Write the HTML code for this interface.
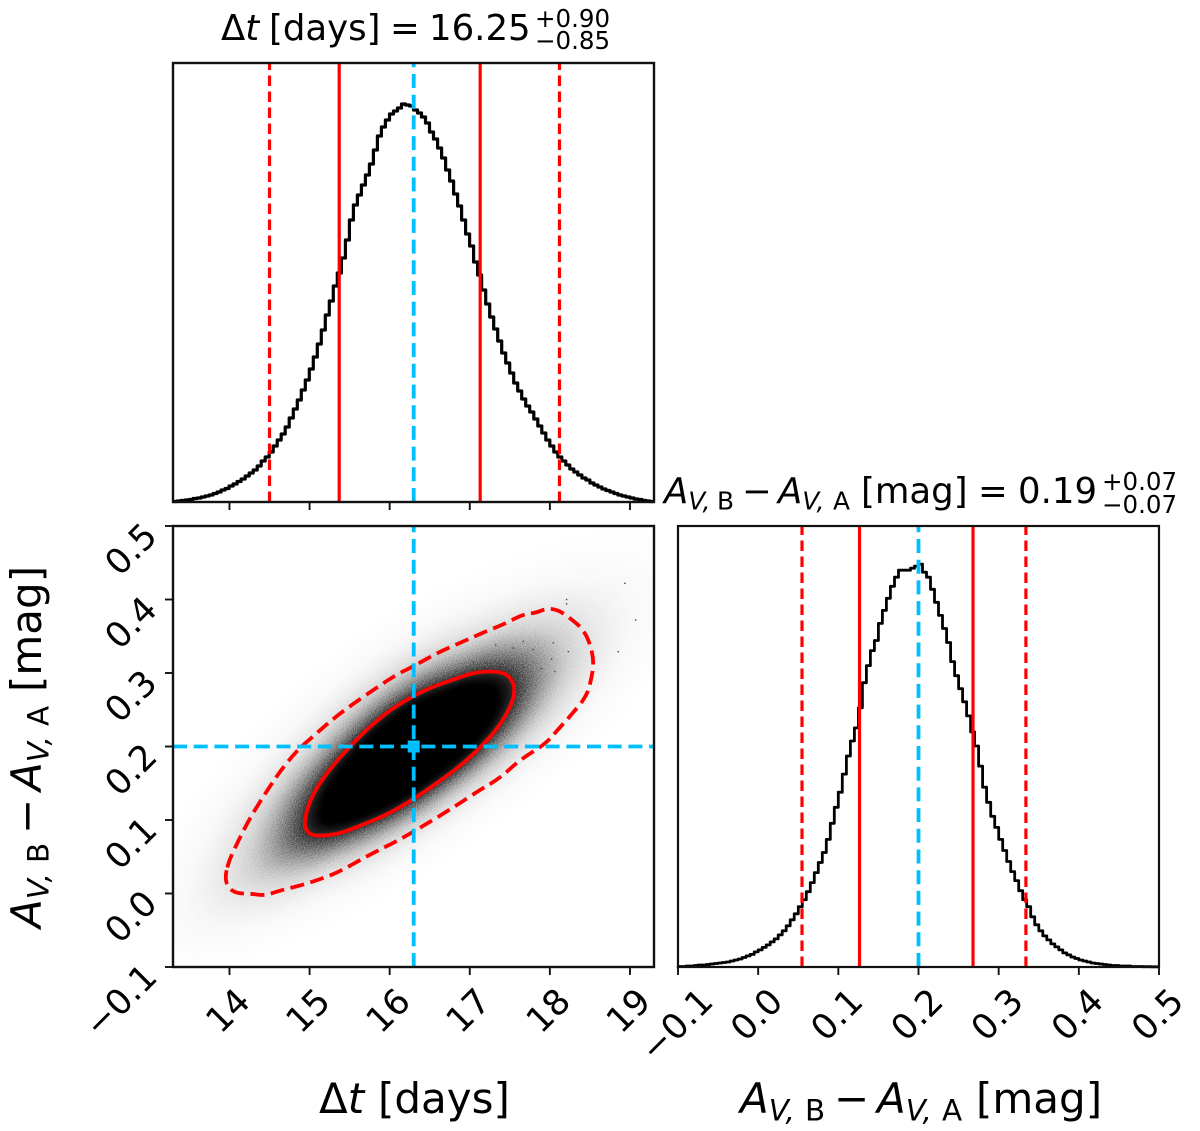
<!DOCTYPE html>
<html><head><meta charset="utf-8"><title>Corner plot</title>
<style>
html,body{margin:0;padding:0;background:#fff}
svg{display:block}
text{font-family:"DejaVu Sans","Liberation Sans",sans-serif;fill:#000}
</style></head>
<body>
<svg id="chart" xmlns="http://www.w3.org/2000/svg" width="1200" height="1131" viewBox="0 0 1200 1131">
<defs>
<clipPath id="clip-joint"><rect x="173" y="526" width="481" height="441"/></clipPath>
<filter id="soft" filterUnits="userSpaceOnUse" x="100" y="480" width="620" height="540" color-interpolation-filters="sRGB"><feGaussianBlur stdDeviation="3"/></filter>
<filter id="grain" filterUnits="userSpaceOnUse" x="100" y="480" width="620" height="540" color-interpolation-filters="sRGB">
<feGaussianBlur in="SourceGraphic" stdDeviation="3.5" result="b"/>
<feTurbulence type="fractalNoise" baseFrequency="0.9" numOctaves="2" seed="3" result="n"/>
<feColorMatrix in="n" type="matrix" values="1 0 0 0 0 1 0 0 0 0 1 0 0 0 0 0 0 0 0 1" result="g"/>
<feComposite in="b" in2="g" operator="arithmetic" k1="-1" k2="1.5" k3="1" k4="-0.5"/>
</filter>
</defs>
<g id="panel-top"></g>
<g id="panel-joint"></g>
<g id="panel-right"></g>

<g>
<text y="40" font-size="35.5"><tspan x="221">Δ</tspan><tspan font-style="italic">t</tspan><tspan x="269">[days]</tspan><tspan x="390">=</tspan><tspan x="429">16.25</tspan></text>
<text x="535" y="27" font-size="24.5">+0.90</text>
<text x="535" y="49" font-size="24.5">−0.85</text>
</g>
<g>
<text y="503" font-size="35.5"><tspan x="664" font-style="italic">A</tspan><tspan font-style="italic" font-size="70%" dy=".26em">V,</tspan><tspan x="717" font-size="70%">B</tspan><tspan x="742" dy="-.18em">−</tspan><tspan x="778" font-style="italic">A</tspan><tspan font-style="italic" font-size="70%" dy=".26em">V,</tspan><tspan x="833" font-size="70%">A</tspan><tspan x="861" dy="-.18em">[mag]</tspan><tspan x="978">=</tspan><tspan x="1018">0.19</tspan></text>
<text x="1102" y="490" font-size="24.5">+0.07</text>
<text x="1102" y="513" font-size="24.5">−0.07</text>
</g>
<text y="1113" font-size="42"><tspan x="319">Δ</tspan><tspan font-style="italic">t</tspan><tspan x="378">[days]</tspan></text>
<text transform="translate(740 1113)" font-size="42"><tspan x="0" font-style="italic">A</tspan><tspan font-style="italic" font-size="70%" dy=".26em">V,</tspan><tspan x="65" font-size="70%">B</tspan><tspan x="94" dy="-.18em">−</tspan><tspan x="137" font-style="italic">A</tspan><tspan font-style="italic" font-size="70%" dy=".26em">V,</tspan><tspan x="202" font-size="70%">A</tspan><tspan x="236" dy="-.18em">[mag]</tspan></text>
<text transform="translate(41 928) rotate(-90)" font-size="42"><tspan x="0" font-style="italic">A</tspan><tspan font-style="italic" font-size="70%" dy=".26em">V,</tspan><tspan x="65" font-size="70%">B</tspan><tspan x="94" dy="-.18em">−</tspan><tspan x="137" font-style="italic">A</tspan><tspan font-style="italic" font-size="70%" dy=".26em">V,</tspan><tspan x="202" font-size="70%">A</tspan><tspan x="236" dy="-.18em">[mag]</tspan></text>
</svg>
<script>
// ---- data ----
const dtRange = [13.295, 19.3];
const avRange = [-0.1, 0.5];
const dtTicks = [14, 15, 16, 17, 18, 19];
const avTicks = [-0.1, 0.0, 0.1, 0.2, 0.3, 0.4, 0.5];
const dtTickLabels = ['14', '15', '16', '17', '18', '19'];
const avTickLabels = ['−0.1', '0.0', '0.1', '0.2', '0.3', '0.4', '0.5'];
const dtTruth = 16.3;
const avTruth = 0.2;
const dtInner = [15.37, 17.13];
const dtOuter = [14.5, 18.12];
const avInner = [0.1264, 0.268];
const avOuter = [0.0547, 0.334];
const countsMax = 4390;
const dtCounts = [5,10,15,20,25,35,40,50,60,70,85,100,120,135,160,180,205,230,260,290,320,360,410,450,500,560,620,680,750,840,930,1020,1120,1220,1330,1450,1580,1720,1870,2010,2160,2290,2440,2620,2820,2970,3070,3170,3270,3380,3520,3660,3750,3820,3880,3910,3940,3980,3970,3960,3920,3890,3850,3790,3700,3630,3540,3440,3320,3210,3080,2960,2820,2680,2560,2400,2270,2120,1980,1850,1730,1610,1490,1390,1290,1190,1110,1030,960,900,830,760,690,620,560,500,450,410,370,330,300,270,240,220,190,170,150,130,115,100,85,70,60,50,40,30,25,15,10,5];
const avCounts = [5,5,10,10,15,20,20,25,30,35,40,45,50,60,70,80,95,110,125,150,170,195,220,250,280,320,360,410,470,530,600,670,750,840,940,1040,1140,1270,1430,1590,1740,1920,2100,2250,2380,2580,2830,3000,3150,3250,3420,3550,3670,3790,3880,3950,3950,3950,3970,3990,4010,3930,3880,3760,3630,3500,3370,3230,3040,2900,2770,2640,2500,2340,2200,2000,1790,1640,1500,1390,1270,1160,1050,950,860,760,670,600,500,420,360,310,270,230,200,170,140,120,100,85,70,60,50,40,35,30,25,20,15,15,10,10,10,5,5,5,3,3,2,2];
const innerContourDt = [14.930,14.984,15.109,15.296,15.504,15.712,15.962,16.212,16.503,16.794,17.086,17.418,17.543,17.564,17.481,17.335,17.127,16.877,16.586,16.295,15.962,15.629,15.338,15.046,14.963];
const innerContourAv = [0.096,0.121,0.148,0.175,0.200,0.223,0.246,0.264,0.280,0.291,0.302,0.302,0.289,0.271,0.248,0.223,0.198,0.173,0.150,0.128,0.107,0.092,0.080,0.078,0.085];
const outerContourDt = [13.944,13.985,14.089,14.256,14.443,14.630,14.922,15.171,15.379,15.754,16.087,16.420,16.794,17.127,17.377,17.627,17.939,18.084,18.251,18.459,18.521,18.550,18.500,18.409,18.272,18.105,17.959,17.835,17.668,17.460,17.210,16.919,16.586,16.295,16.087,15.837,15.504,15.254,15.046,14.838,14.630,14.464,14.256,14.089,13.985];
const outerContourAv = [0.021,0.008,0.000,0.000,-0.003,0.004,0.012,0.021,0.030,0.053,0.071,0.092,0.117,0.141,0.157,0.182,0.203,0.221,0.241,0.268,0.293,0.316,0.341,0.360,0.373,0.386,0.388,0.382,0.380,0.368,0.357,0.343,0.327,0.309,0.298,0.280,0.255,0.234,0.214,0.194,0.166,0.139,0.103,0.067,0.042];
const outlierDt = [17.323,17.543,17.793,18.022,18.230,18.043,18.854,19.071,18.209,18.209,18.937,17.668,16.877,17.210,17.044,17.439,17.668,17.897,18.063];
const outlierAv = [0.338,0.334,0.332,0.319,0.329,0.341,0.329,0.372,0.400,0.394,0.422,0.343,0.299,0.314,0.314,0.316,0.308,0.306,0.302];
const densityCenter = [16.25, 0.19];
const densityScales = [2.7,2.55,2.4,2.25,2.1,2.0,1.9,1.8,1.7,1.6,1.5,1.42,1.34,1.26,1.18,1.1,1.02,0.95,0.88];
const densityValues = [0.004,0.008,0.014,0.022,0.035,0.05,0.07,0.095,0.125,0.165,0.22,0.29,0.37,0.47,0.58,0.70,0.83,0.93,1.0];
const solidCoreLevels = 3;

// ---- axis functions ----
const NS = 'http://www.w3.org/2000/svg';
const LEFT = {x0: 173, x1: 654};
const RIGHT = {x0: 678, x1: 1159};
const TOPP = {y0: 63, y1: 502};
const JOINT = {y0: 526, y1: 967};
const xDt = v => LEFT.x0 + (v - dtRange[0]) / (dtRange[1] - dtRange[0]) * (LEFT.x1 - LEFT.x0);
const xAv = v => RIGHT.x0 + (v - avRange[0]) / (avRange[1] - avRange[0]) * (RIGHT.x1 - RIGHT.x0);
const yAv = v => JOINT.y1 - (v - avRange[0]) / (avRange[1] - avRange[0]) * (JOINT.y1 - JOINT.y0);
const yTop = v => TOPP.y1 - v / countsMax * (TOPP.y1 - TOPP.y0);
const yRight = v => JOINT.y1 - v / countsMax * (JOINT.y1 - JOINT.y0);

function mk(tag, parent, attrs) {
  const e = document.createElementNS(NS, tag);
  for (const k in attrs) e.setAttribute(k, attrs[k]);
  parent.appendChild(e);
  return e;
}
const RED = '#ff0000', BLUE = '#00bfff';
const pTop = document.getElementById('panel-top');
const pJoint = document.getElementById('panel-joint');
const pRight = document.getElementById('panel-right');

function stepPath(counts, xa, xb, yf) {
  const w = (xb - xa) / counts.length;
  let d = 'M' + xa + ' ' + yf(counts[0]);
  counts.forEach((c, i) => { d += 'V' + yf(c).toFixed(1) + 'H' + (xa + (i + 1) * w).toFixed(1); });
  return d;
}
function smoothClosed(px) {
  const n = px.length;
  const mid = (a, b) => [(a[0] + b[0]) / 2, (a[1] + b[1]) / 2];
  const s = mid(px[n - 1], px[0]);
  let d = 'M' + s[0].toFixed(1) + ' ' + s[1].toFixed(1);
  for (let i = 0; i < n; i++) {
    const m = mid(px[i], px[(i + 1) % n]);
    d += 'Q' + px[i][0].toFixed(1) + ' ' + px[i][1].toFixed(1) + ' ' + m[0].toFixed(1) + ' ' + m[1].toFixed(1);
  }
  return d + 'Z';
}

// ---- top histogram ----
const topHist = mk('path', pTop, {d: stepPath(dtCounts, LEFT.x0, LEFT.x1, yTop), fill: 'none', stroke: '#000', 'stroke-width': 3.2, 'stroke-linejoin': 'round'});


dtOuter.forEach(v => {
  const l = mk('line', pTop, {x1: xDt(v), x2: xDt(v), y1: TOPP.y1, y2: TOPP.y0, stroke: RED, 'stroke-width': 3.2, 'stroke-dasharray': '10.5 5.5'});
  
  
});
dtInner.forEach(v => {
  const l = mk('line', pTop, {x1: xDt(v), x2: xDt(v), y1: TOPP.y1, y2: TOPP.y0, stroke: RED, 'stroke-width': 3.2});
  
  
});
const topTruth = mk('line', pTop, {x1: xDt(dtTruth), x2: xDt(dtTruth), y1: TOPP.y1, y2: TOPP.y0, stroke: BLUE, 'stroke-width': 3.8, 'stroke-dasharray': '14 6.7'});



// ---- joint panel ----
const jointClip = mk('g', pJoint, {'clip-path': 'url(#clip-joint)'});


const densityGroup = mk('g', jointClip, {filter: 'url(#grain)'});


const densityBase = mk('rect', densityGroup, {x: 100, y: 480, width: 620, height: 540, fill: '#fff'});


const coreGroup = mk('g', jointClip, {filter: 'url(#soft)'});


const cx = xDt(densityCenter[0]), cy = yAv(densityCenter[1]);
const innerPx = innerContourDt.map((v, i) => [xDt(v), yAv(innerContourAv[i])]);
const outerPx = outerContourDt.map((v, i) => [xDt(v), yAv(outerContourAv[i])]);
densityScales.forEach((s, i) => {
  const pts = innerPx.map(p => [cx + (p[0] - cx) * s, cy + (p[1] - cy) * s]);
  const g = Math.round(255 * (1 - densityValues[i]));
  const host = i >= densityScales.length - solidCoreLevels ? coreGroup : densityGroup;
  const band = mk('path', host, {d: smoothClosed(pts), fill: 'rgb(' + g + ',' + g + ',' + g + ')'});
  
  
});
outlierDt.forEach((v, i) => {
  const dot = mk('rect', jointClip, {x: xDt(v) - 0.7, y: yAv(outlierAv[i]) - 0.7, width: 1.4, height: 1.4, fill: '#444'});
  
  
});
const outerC = mk('path', jointClip, {d: smoothClosed(outerPx), fill: 'none', stroke: RED, 'stroke-width': 3.8, 'stroke-dasharray': '14 6.5', 'stroke-linejoin': 'round'});


const innerC = mk('path', jointClip, {d: smoothClosed(innerPx), fill: 'none', stroke: RED, 'stroke-width': 3.8, 'stroke-linejoin': 'round'});


const jv = mk('line', jointClip, {x1: xDt(dtTruth), x2: xDt(dtTruth), y1: JOINT.y1, y2: JOINT.y0, stroke: BLUE, 'stroke-width': 3.8, 'stroke-dasharray': '14 6.7'});


const jh = mk('line', jointClip, {x1: LEFT.x0, x2: LEFT.x1, y1: yAv(avTruth), y2: yAv(avTruth), stroke: BLUE, 'stroke-width': 3.8, 'stroke-dasharray': '14 6.7'});


const jm = mk('rect', jointClip, {x: xDt(dtTruth) - 6, y: yAv(avTruth) - 6, width: 12, height: 12, fill: BLUE});



// ---- right histogram ----
const rightHist = mk('path', pRight, {d: stepPath(avCounts, RIGHT.x0, RIGHT.x1, yRight), fill: 'none', stroke: '#000', 'stroke-width': 2.8, 'stroke-linejoin': 'round'});


avOuter.forEach(v => {
  const l = mk('line', pRight, {x1: xAv(v), x2: xAv(v), y1: JOINT.y1, y2: JOINT.y0, stroke: RED, 'stroke-width': 3.2, 'stroke-dasharray': '10.5 5.5'});
  
  
});
avInner.forEach(v => {
  const l = mk('line', pRight, {x1: xAv(v), x2: xAv(v), y1: JOINT.y1, y2: JOINT.y0, stroke: RED, 'stroke-width': 3.2});
  
  
});
const rightTruth = mk('line', pRight, {x1: xAv(avTruth), x2: xAv(avTruth), y1: JOINT.y1, y2: JOINT.y0, stroke: BLUE, 'stroke-width': 3.8, 'stroke-dasharray': '14 6.7'});



// ---- frames ----
[[pTop, LEFT, TOPP, 2.4], [pJoint, LEFT, JOINT, 2.4], [pRight, RIGHT, JOINT, 2.2]].forEach(f => {
  const r = mk('rect', f[0], {x: f[1].x0, y: f[2].y0, width: f[1].x1 - f[1].x0, height: f[2].y1 - f[2].y0, fill: 'none', stroke: '#111', 'stroke-width': f[3]});
  
  
});

// ---- ticks ----
dtTicks.forEach(v => {
  [[pTop, TOPP.y1], [pJoint, JOINT.y1]].forEach(a => {
    const t = mk('line', a[0], {x1: xDt(v), x2: xDt(v), y1: a[1], y2: a[1] + 8, stroke: '#111', 'stroke-width': 1.9});
    
    
  });
});
avTicks.forEach(v => {
  const t = mk('line', pRight, {x1: xAv(v), x2: xAv(v), y1: JOINT.y1, y2: JOINT.y1 + 8, stroke: '#111', 'stroke-width': 1.9});
  
  
  const u = mk('line', pJoint, {x1: LEFT.x0 - 8, x2: LEFT.x0, y1: yAv(v), y2: yAv(v), stroke: '#111', 'stroke-width': 1.9});
  
  
});

// ---- tick labels ----
const TICK_FS = 35;
function xLabel(parent, x, label) {
  const t = mk('text', parent, {'font-size': TICK_FS, 'text-anchor': 'middle'});
  t.textContent = label;
  const w = t.getComputedTextLength();
  const c = 986 + (w + 24) * 0.3535;
  t.setAttribute('transform', 'translate(' + (x - 2) + ' ' + c + ') rotate(-45) translate(0 ' + (0.36 * TICK_FS) + ')');
  return t;
}
dtTicks.forEach((v, i) => {
  const t = xLabel(pJoint, xDt(v), dtTickLabels[i]);
  
  
});
avTicks.forEach((v, i) => {
  const t = xLabel(pRight, xAv(v), avTickLabels[i]);
  
  
  const u = mk('text', pJoint, {'font-size': TICK_FS, 'text-anchor': 'end', transform: 'translate(159 ' + (yAv(v) + 12) + ') rotate(-45)'});
  u.textContent = avTickLabels[i];
  
  
});
</script>
</body></html>
